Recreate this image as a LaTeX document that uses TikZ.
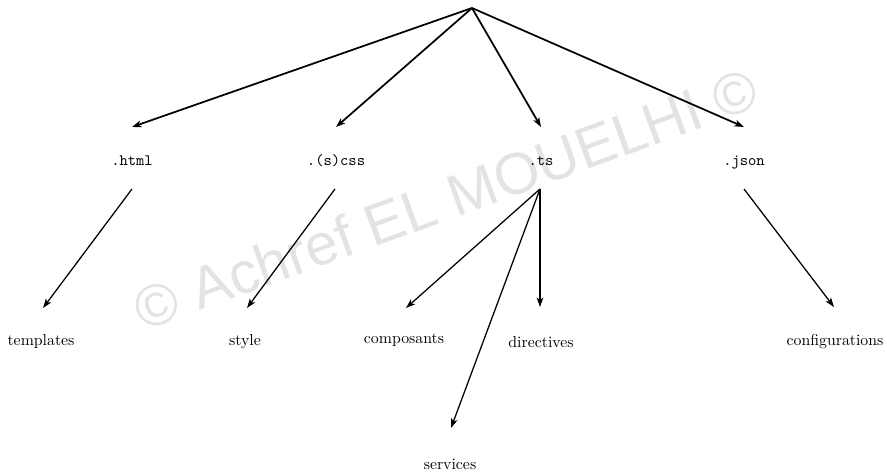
\documentclass[tikz,border=0pt]{standalone}
\usepackage{fontspec}
\newfontfamily\markfont{Liberation Sans}
\usetikzlibrary{arrows.meta,calc}
\begin{document}
\begin{tikzpicture}[x=0.6325pt,y=-0.6325pt,
  filetype/.style={anchor=base,inner sep=0pt,font=\ttfamily},
  topic/.style={anchor=base,inner sep=0pt},
  upper/.style={line width=1.1pt,-{Stealth[length=6pt,width=4.2pt,inset=1.6pt]}},
  lower/.style={line width=0.8pt,-{Stealth[length=6pt,width=4.2pt,inset=1.6pt]}},
  watermark/.style={text=black!11,font=\markfont\fontsize{37}{40}\selectfont,rotate=20}]
\useasboundingbox (0,0) rectangle (887,471);

% copyright mark behind the tree
\node[watermark] (mark) at (446,199) {\textcopyright{} Achref EL MOUELHI \textcopyright};

% root of the tree
\coordinate (root) at (472,8);

% file extensions
\node[filetype] (html) at (132,165) {.html};
\node[filetype] (css)  at (336,165) {.(s)css};
\node[filetype] (ts)   at (541,165) {.ts};
\node[filetype] (json) at (744,165) {.json};

% what each kind of file holds
\node[topic] (templates) at (41,345)  {templates};
\node[topic] (style)     at (245,345) {style};
\node[topic] (compo)     at (404,343) {composants};
\node[topic] (direct)    at (541,347) {directives};
\node[topic] (services)  at (450,469) {services};
\node[topic] (config)    at (835,345) {configurations};

% root to extensions
\foreach \n in {html,css,ts,json}
  \draw[upper] (root) -- ($(\n.base)+(0,-38)$);

% extensions to contents
\draw[lower] ($(html.base)+(0,24)$) -- ($(templates.base)+(2,-37)$);
\draw[lower] ($(css.base)+(-1,24)$) -- ($(style.base)+(2,-37)$);
\draw[lower] ($(ts.base)+(-1,24)$) -- ($(compo.base)+(2,-35)$);
\draw[lower] ($(ts.base)+(-1,24)$) -- ($(direct.base)+(-1,-40)$);
\draw[lower] ($(ts.base)+(-1,24)$) -- ($(services.base)+(1,-41)$);
\draw[lower] ($(json.base)+(0,24)$) -- ($(config.base)+(-1,-38)$);
\end{tikzpicture}
\end{document}
